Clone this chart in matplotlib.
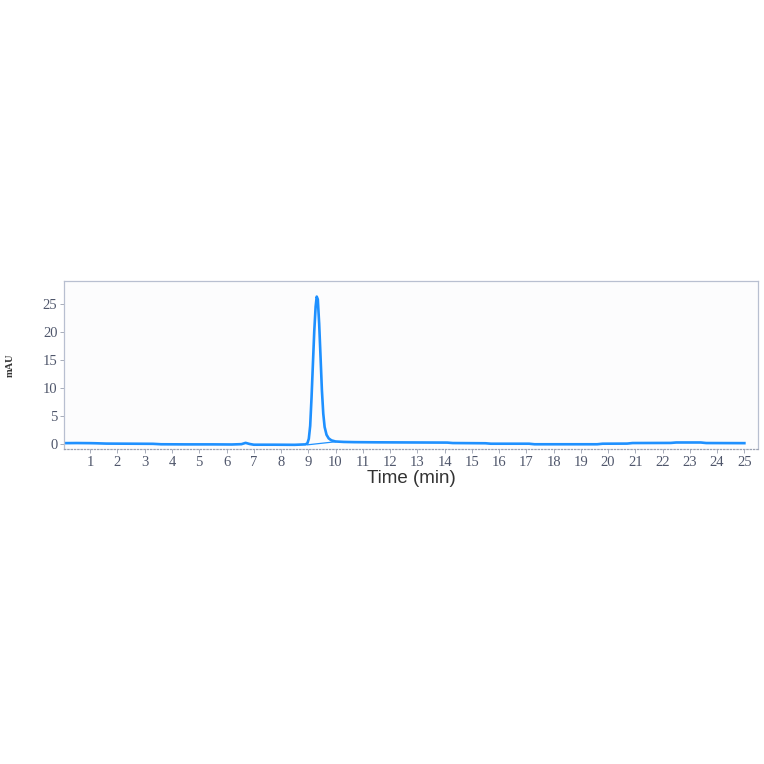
import matplotlib
matplotlib.use("Agg")
import matplotlib.pyplot as plt

# chromatogram trace (time in min, signal in mAU)
time = [0.0, 0.5, 1.0, 1.2, 1.6, 2.5, 3.3, 3.6, 4.5, 5.5, 6.2, 6.55, 6.7, 6.85, 7.0,
        7.8, 8.5, 8.9, 8.97, 9.02, 9.07, 9.12, 9.17, 9.22, 9.27, 9.31, 9.35,
        9.40, 9.45, 9.50, 9.55, 9.60, 9.67, 9.75, 9.85, 10.0, 10.3, 10.7, 11.5,
        13.0, 14.1, 14.3, 15.5, 15.7, 17.1, 17.3, 19.6, 19.8, 20.7, 20.9,
        22.3, 22.5, 23.4, 23.6, 25.0]
signal = [0.10, 0.12, 0.10, 0.08, 0.02, 0.0, -0.02, -0.10, -0.12, -0.12, -0.14, -0.08, 0.15, -0.05, -0.18,
          -0.18, -0.20, -0.12, 0.1, 0.9, 3.2, 8.3, 14.3, 20.2, 24.6, 26.4, 25.9,
          21.5, 15.6, 9.6, 5.4, 3.0, 1.6, 0.95, 0.6, 0.4, 0.32, 0.28, 0.25,
          0.22, 0.2, 0.12, 0.08, 0.0, 0.0, -0.1, -0.1, 0.0, 0.02, 0.12,
          0.14, 0.22, 0.22, 0.12, 0.1]

# integration baseline under the peak
base_t = [8.97, 10.0]
base_y = [-0.2, 0.35]

x_ticks = list(range(1, 26))
y_ticks = [0, 5, 10, 15, 20, 25]

blue = "#1e90ff"
tick_col = "#4f566b"

fig = plt.figure(figsize=(7.64, 7.64), dpi=100)
ax = fig.add_axes([0.0842, 0.4123, 0.9083, 0.2199])
ax.set_facecolor("#fcfcfd")

ax.plot(time, signal, color=blue, lw=1.9)
ax.plot(base_t, base_y, color=blue, lw=0.9)

ax.set_xlim(0.05, 25.51)
ax.set_ylim(-0.95, 29.2)
ax.set_xticks(x_ticks)
ax.set_yticks(y_ticks)

for s in ax.spines.values():
    s.set_color("#b8bfd0")
    s.set_linewidth(0.9)
ax.spines["bottom"].set_linestyle(":")
ax.spines["bottom"].set_color("#9aa0b0")

ax.tick_params(axis="both", length=3, width=0.6, color="#9aa0b0",
               labelcolor=tick_col, labelsize=10.5, pad=2)
for lab in ax.get_xticklabels() + ax.get_yticklabels():
    lab.set_family("Liberation Serif")

ax.set_xlabel("Time (min)", family="Liberation Sans", fontsize=13.5,
              color="#333333", labelpad=1)
fig.text(0.013, 0.522, "mAU", rotation=90, family="Liberation Serif",
         fontsize=7.5, fontweight="bold", color="#333333", va="center", ha="center")

fig.savefig("out.png", dpi=100, facecolor="white")
